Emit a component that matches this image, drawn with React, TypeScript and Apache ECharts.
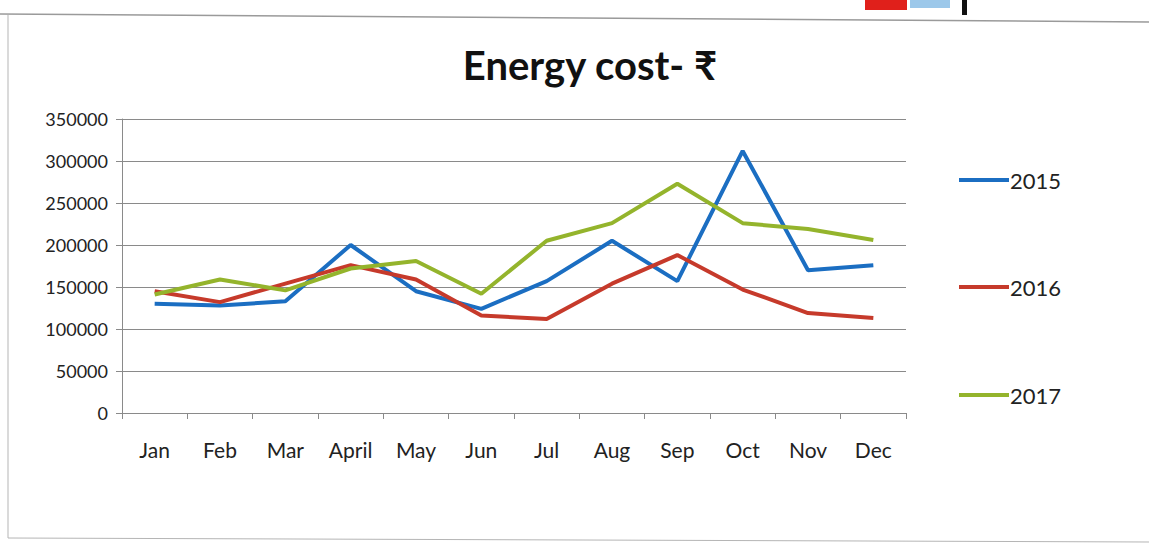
import React, { useEffect, useRef } from "react";
import * as echarts from "echarts";

const months = ["Jan", "Feb", "Mar", "April", "May", "Jun", "Jul", "Aug", "Sep", "Oct", "Nov", "Dec"];
const s2015 = [130000, 128000, 133000, 200000, 145000, 124000, 157000, 205000, 157000, 312000, 170000, 176000];
const s2016 = [145000, 132000, 154000, 176000, 159000, 116000, 112000, 154000, 188000, 147000, 119000, 113000];
const s2017 = [141000, 159000, 146000, 172000, 181000, 142000, 205000, 226000, 273000, 226000, 219000, 206000];
const seriesNames = ["2015", "2016", "2017"];
const colors = ["#1b6ec2", "#c63a2b", "#94b42c"];

const FONT = "Lato, 'Noto Sans', 'DejaVu Sans', sans-serif";

export default function App() {
  const ref = useRef<HTMLDivElement>(null);
  useEffect(() => {
    const chart = echarts.init(ref.current!, null, { renderer: "svg" });
    const data = [s2015, s2016, s2017];
    const legendTops = [164, 271, 379];
    chart.setOption({
      animation: false,
      backgroundColor: "#ffffff",
      title: {
        text: "Energy cost- ₹",
        left: 585,
        top: 40,
        textAlign: "center",
        textStyle: { fontFamily: FONT, fontSize: 40, fontWeight: "bold", color: "#111" },
      },
      grid: { left: 122, right: 243, top: 119, bottom: 133, containLabel: false },
      legend: seriesNames.map((n, i) => ({
        data: [n],
        left: 954,
        top: legendTops[i],
        icon: "rect",
        itemWidth: 50,
        itemHeight: 4,
        itemGap: 4,
        textStyle: { fontFamily: FONT, fontSize: 22, color: "#222", padding: [0, 0, 0, -4] },
      })),
      xAxis: {
        type: "category",
        data: months,
        boundaryGap: true,
        axisLine: { lineStyle: { color: "#8a8a8a", width: 1 } },
        axisTick: { show: true, length: 6, lineStyle: { color: "#8a8a8a" } },
        axisLabel: { fontFamily: FONT, fontSize: 21, color: "#222", margin: 26 },
      },
      yAxis: {
        type: "value",
        min: 0,
        max: 350000,
        interval: 50000,
        axisLine: { show: true, lineStyle: { color: "#8a8a8a" } },
        axisTick: { show: true, length: 6, lineStyle: { color: "#8a8a8a" } },
        axisLabel: {
          fontFamily: FONT,
          fontSize: 18,
          color: "#222",
          margin: 14,
          formatter: (v: number) => String(v),
        },
        splitLine: { lineStyle: { color: "#8a8a8a", width: 1 } },
      },
      series: data.map((d, i) => ({
        name: seriesNames[i],
        type: "line",
        data: d,
        symbol: "none",
        color: colors[i],
        lineStyle: { width: 4, color: colors[i] },
      })),
      graphic: [
        { type: "line", shape: { x1: 0, y1: 14, x2: 1149, y2: 22 }, style: { stroke: "#9a9a9a", lineWidth: 1.5 } },
        { type: "line", shape: { x1: 8, y1: 15, x2: 8, y2: 538 }, style: { stroke: "#b5b5b5", lineWidth: 1 } },
        { type: "line", shape: { x1: 8, y1: 538, x2: 1149, y2: 542 }, style: { stroke: "#b5b5b5", lineWidth: 1 } },
        { type: "rect", shape: { x: 865, y: 0, width: 42, height: 10 }, style: { fill: "#e0201b" } },
        { type: "rect", shape: { x: 910, y: 0, width: 40, height: 8 }, style: { fill: "#9cc8ea" } },
        { type: "rect", shape: { x: 962, y: 0, width: 5, height: 15 }, style: { fill: "#111" } },
      ],
    });
    return () => chart.dispose();
  }, []);
  return (
    <div
      ref={ref}
      style={{ position: "absolute", left: 0, top: 0, width: 1149, height: 546 }}
    />
  );
}
